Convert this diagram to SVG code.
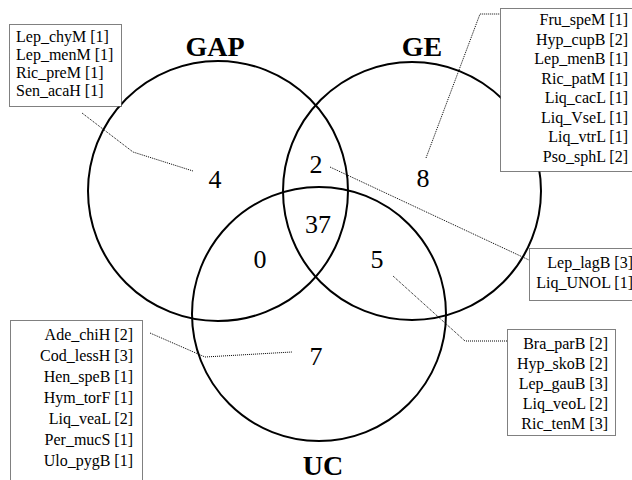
<svg xmlns="http://www.w3.org/2000/svg" width="632" height="480" viewBox="0 0 632 480">
<style>
.c{fill:none;stroke:#000;stroke-width:2}
.t{font-family:"Liberation Serif",serif;font-weight:bold;font-size:28px;text-anchor:middle;fill:#000}
.n{font-family:"Liberation Serif",serif;font-size:26px;text-anchor:middle;fill:#000}
.b{fill:#fff;stroke:#000;stroke-width:1;stroke-dasharray:1,1}
.l{font-family:"Liberation Serif",serif;font-size:16px;fill:#000}
.r{text-anchor:end}
.k{fill:none;stroke:#000;stroke-width:1;stroke-dasharray:1,1}
</style>
<rect width="632" height="480" fill="#fff"/>
<g id="connectors">
<polyline class="k" points="82,113 133,152 193,171"/>
<polyline class="k" points="426,158 480,14 500,14"/>
<polyline class="k" points="330,167 529,260"/>
<polyline class="k" points="393,276 465,341 507,341"/>
<polyline class="k" points="150,333 205,357 292,352"/>
</g>
<g id="set-GAP"><circle class="c" cx="218" cy="191" r="130"/><text class="t" x="215" y="56">GAP</text></g>
<g id="set-GE"><circle class="c" cx="412" cy="191" r="129"/><text class="t" x="422" y="56">GE</text></g>
<g id="set-UC"><circle class="c" cx="319" cy="314" r="127"/><text class="t" x="323" y="475">UC</text></g>
<g id="counts">
<text class="n" x="215" y="188">4</text>
<text class="n" x="316" y="173">2</text>
<text class="n" x="423" y="187">8</text>
<text class="n" x="318" y="233">37</text>
<text class="n" x="260" y="268">0</text>
<text class="n" x="377" y="268">5</text>
<text class="n" x="316" y="365">7</text>
</g>
<g id="box-GAP">
<rect class="b" x="9.5" y="24.5" width="112" height="82"/>
<text class="l" x="16" y="42">Lep_chyM [1]</text>
<text class="l" x="16" y="60">Lep_menM [1]</text>
<text class="l" x="16" y="78">Ric_preM [1]</text>
<text class="l" x="16" y="96">Sen_acaH [1]</text>
</g>
<g id="box-GE">
<rect class="b" x="500.5" y="8.5" width="140" height="163"/>
<text class="l r" x="628" y="25">Fru_speM [1]</text>
<text class="l r" x="628" y="44.5">Hyp_cupB [2]</text>
<text class="l r" x="628" y="64">Lep_menB [1]</text>
<text class="l r" x="628" y="83.5">Ric_patM [1]</text>
<text class="l r" x="628" y="103">Liq_cacL [1]</text>
<text class="l r" x="628" y="122.5">Liq_VseL [1]</text>
<text class="l r" x="628" y="142">Liq_vtrL [1]</text>
<text class="l r" x="628" y="161.5">Pso_sphL [2]</text>
</g>
<g id="box-GAP-GE">
<rect class="b" x="529.5" y="248.5" width="110" height="52"/>
<text class="l r" x="633" y="268">Lep_lagB [3]</text>
<text class="l r" x="633" y="288">Liq_UNOL [1]</text>
</g>
<g id="box-GE-UC">
<rect class="b" x="507.5" y="329.5" width="108" height="106"/>
<text class="l r" x="608" y="349">Bra_parB [2]</text>
<text class="l r" x="608" y="369">Hyp_skoB [2]</text>
<text class="l r" x="608" y="389">Lep_gauB [3]</text>
<text class="l r" x="608" y="409">Liq_veoL [2]</text>
<text class="l r" x="608" y="429">Ric_tenM [3]</text>
</g>
<g id="box-UC">
<rect class="b" x="10.5" y="320.5" width="132" height="170"/>
<text class="l r" x="133" y="340">Ade_chiH [2]</text>
<text class="l r" x="133" y="361">Cod_lessH [3]</text>
<text class="l r" x="133" y="382">Hen_speB [1]</text>
<text class="l r" x="133" y="403">Hym_torF [1]</text>
<text class="l r" x="133" y="424">Liq_veaL [2]</text>
<text class="l r" x="133" y="445">Per_mucS [1]</text>
<text class="l r" x="133" y="466">Ulo_pygB [1]</text>
</g>
</svg>
